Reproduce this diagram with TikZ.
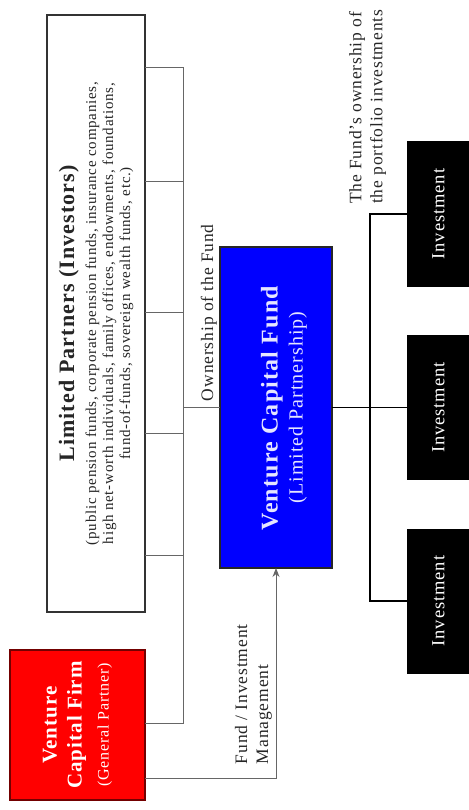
\documentclass[tikz,border=0pt]{standalone}
\usepackage{fontspec}
\setmainfont{Liberation Serif}[LetterSpace=5]
\usepackage{tikz}
\usetikzlibrary{arrows.meta, positioning}

\begin{document}
\begin{tikzpicture}[
    x=1pt, y=-1pt,
    every node/.style={inner sep=0pt, outer sep=0pt},
    box/.style={rectangle, rotate=90, align=center},
    firmbox/.style={box, draw=red!45!black, line width=1.5pt, fill=red, text=white, minimum width=150pt, minimum height=135pt, font=\fontsize{21}{25}\selectfont\bfseries},
    lpbox/.style={box, draw=black!80, line width=1.6pt, fill=white, text=black!85, minimum width=597pt, minimum height=98pt, font=\fontsize{15}{17}\selectfont},
    fundbox/.style={box, draw=black!85, line width=1.4pt, fill=blue, minimum width=321pt, minimum height=112pt},
    fundtext/.style={box, text=white!90!blue, font=\fontsize{24}{24}\selectfont},
    invbox/.style={box, fill=black, text=white, minimum width=145pt, minimum height=63pt, font=\fontsize{18.5}{20}\selectfont},
    note/.style={rotate=90, align=left, font=\fontsize{17.5}{21}\selectfont, text=black!85},
    bus/.style={draw=black!60, line width=1pt},
    link/.style={draw=black, line width=1.6pt},
    rel/.style={bus, -{Stealth[length=9pt, width=7pt]}},
]
\useasboundingbox (0,0) rectangle (468,810);

% Main boxes
\node[lpbox] (lp) at (96,313.5) {{\fontsize{22}{22}\selectfont\bfseries Limited Partners (Investors)}\\[5pt]
    (public pension funds, corporate pension funds, insurance companies,\\
    high net-worth individuals, family offices, endowments, foundations,\\
    fund-of-funds, sovereign wealth funds, etc.)};
\node[firmbox] (firm) at (77.5,725) {Venture\\Capital Firm\\[2pt]{\fontsize{16}{18}\selectfont\mdseries (General Partner)}};
\node[fundbox] (fund) at (276,407.5) {};
\node[fundtext] at ([xshift=8pt]fund.center) {\textbf{Venture Capital Fund}\\[1pt]{\fontsize{20}{20}\selectfont (Limited Partnership)}};

% Portfolio investments
\foreach \y [count=\i] in {214,407.5,601}
    \node[invbox] (inv\i) at (438.5,\y) {Investment};

% Ownership of the fund
\coordinate (bustop) at (183,68);
\coordinate (busend) at (183,723);
\draw[bus] (firm.south |- busend) -- (busend) -- (bustop) -- (lp.south |- bustop);
\foreach \y in {182,312,433,555}
    \draw[bus] (lp.south |- 0,\y) -- (bustop |- 0,\y);
\draw[bus] (bustop |- fund) -- (fund.north);
\node[note, anchor=base west] (own) at (213,401) {Ownership of the Fund};

% Fund / investment management
\draw[rel] (firm.south |- 0,778) -| (fund.west);
\node[note, anchor=south west] (mgmt) at (272,764) {Fund / Investment\\Management};

% Fund to investments
\coordinate (trunk) at (370,407.5);
\draw[link] (fund.south) -- (inv2.north);
\draw[link] (inv1.north) -- (inv1.north -| trunk) -- (inv3.north -| trunk) -- (inv3.north);
\node[note, anchor=south west] (port) at (386,204) {The Fund's ownership of\\the portfolio investments};

\end{tikzpicture}
\end{document}
